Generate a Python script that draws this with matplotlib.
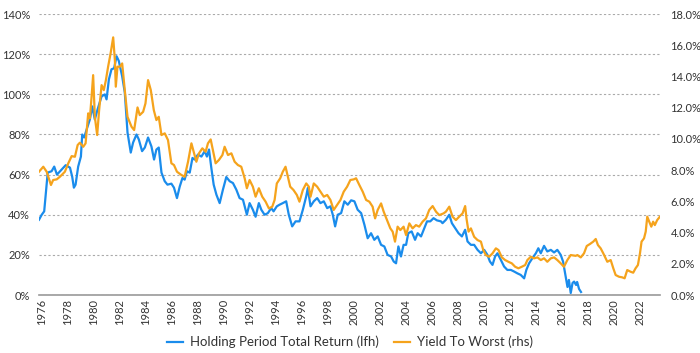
import matplotlib
matplotlib.use("Agg")
import matplotlib.pyplot as plt
from matplotlib.ticker import FuncFormatter, MultipleLocator

plt.rcParams['font.family'] = ['Lato', 'DejaVu Sans']

# Holding Period Total Return (left axis, %)
hptr_years = [1975.81, 1976.02, 1976.21, 1976.48, 1976.78, 1976.98, 1977.19, 1977.55, 1977.86, 1978.19,
              1978.36, 1978.49, 1978.62, 1978.82, 1979.03, 1979.13, 1979.28, 1979.47, 1979.72, 1979.90,
              1980.10, 1980.31, 1980.62, 1980.87, 1981.00, 1981.18, 1981.38, 1981.58, 1981.77, 1981.94,
              1982.20, 1982.40, 1982.61, 1982.86, 1983.04, 1983.30, 1983.48, 1983.73, 1983.94, 1984.19,
              1984.45, 1984.65, 1984.83, 1985.01, 1985.22, 1985.47, 1985.68, 1985.98, 1986.18, 1986.41,
              1986.62, 1986.83, 1987.00, 1987.18, 1987.39, 1987.60, 1987.77, 1988.02, 1988.29, 1988.54,
              1988.71, 1988.87, 1989.05, 1989.23, 1989.44, 1989.69, 1989.94, 1990.20, 1990.46, 1990.71,
              1990.97, 1991.22, 1991.48, 1991.78, 1991.99, 1992.24, 1992.45, 1992.70, 1992.89, 1993.14,
              1993.39, 1993.65, 1993.83, 1994.08, 1994.29, 1994.54, 1994.80, 1995.00, 1995.26, 1995.52,
              1995.82, 1996.08, 1996.34, 1996.46, 1996.67, 1996.92, 1997.18, 1997.43, 1997.69, 1997.95,
              1998.20, 1998.38, 1998.56, 1998.76, 1999.02, 1999.27, 1999.53, 1999.79, 2000.04, 2000.29,
              2000.56, 2000.81, 2001.06, 2001.32, 2001.57, 2001.83, 2002.09, 2002.34, 2002.59, 2002.86,
              2003.06, 2003.24, 2003.42, 2003.62, 2003.82, 2004.01, 2004.18, 2004.44, 2004.70, 2004.90,
              2005.16, 2005.36, 2005.62, 2005.87, 2006.12, 2006.38, 2006.69, 2006.81, 2007.07, 2007.33,
              2007.53, 2007.79, 2008.04, 2008.30, 2008.55, 2008.73, 2008.99, 2009.24, 2009.50, 2009.76,
              2010.01, 2010.26, 2010.45, 2010.65, 2010.85, 2011.03, 2011.29, 2011.54, 2011.79, 2012.06,
              2012.31, 2012.56, 2012.82, 2013.08, 2013.25, 2013.46, 2013.71, 2013.98, 2014.17, 2014.36,
              2014.61, 2014.86, 2015.13, 2015.38, 2015.63, 2015.89, 2016.07, 2016.27, 2016.41, 2016.52,
              2016.66, 2016.80, 2016.92, 2017.07, 2017.15, 2017.30, 2017.45]
hptr_values = [37.5, 40.0, 41.7, 61.0, 61.7, 64.0, 60.0, 62.5, 64.7, 63.5,
               59.0, 53.5, 55.0, 64.0, 69.0, 80.0, 78.5, 82.5, 87.5, 94.0,
               87.5, 92.5, 99.0, 100.0, 97.5, 107.5, 112.5, 113.0, 119.0, 116.7,
               109.0, 101.0, 81.0, 71.0, 76.0, 80.0, 77.5, 71.7, 73.5, 78.5,
               74.0, 67.5, 72.5, 73.5, 61.0, 56.7, 55.0, 55.5, 53.5, 48.3,
               54.0, 58.3, 57.5, 61.7, 61.0, 68.3, 67.5, 70.0, 69.0, 71.7,
               69.0, 72.5, 63.3, 55.0, 50.0, 45.8, 52.5, 58.8, 56.7, 55.8,
               52.5, 48.3, 47.5, 40.0, 45.8, 42.5, 39.0, 45.8, 42.5, 40.0,
               40.8, 43.3, 41.7, 44.2, 45.0, 45.8, 46.7, 40.0, 34.2, 36.7,
               36.7, 42.5, 49.2, 53.3, 44.2, 46.7, 48.3, 45.8, 46.7, 43.3,
               44.2, 40.0, 34.2, 40.0, 40.8, 46.7, 45.0, 47.2, 46.7, 42.5,
               40.8, 35.0, 28.3, 30.8, 27.5, 29.2, 25.0, 24.2, 20.0, 19.2,
               16.7, 15.8, 24.2, 19.2, 25.0, 25.0, 30.8, 31.7, 27.5, 30.8,
               29.2, 32.5, 36.7, 36.7, 38.3, 37.2, 36.7, 35.8, 37.5, 40.0,
               35.8, 33.3, 30.8, 29.2, 32.5, 26.7, 25.0, 25.0, 22.5, 20.8,
               22.5, 20.0, 16.7, 15.0, 19.2, 20.8, 17.5, 14.2, 12.5, 12.5,
               11.7, 10.8, 10.0, 8.3, 12.5, 15.8, 18.3, 20.8, 23.3, 20.8,
               24.5, 21.7, 22.5, 21.2, 22.5, 20.0, 16.7, 9.2, 4.0, 7.5,
               1.0, 6.0, 6.7, 5.0, 6.5, 3.0, 1.5]

# Yield To Worst (right axis, %)
ytw_years = [1975.81, 1976.14, 1976.40, 1976.73, 1976.90, 1977.17, 1977.42, 1977.80, 1978.06, 1978.32,
             1978.57, 1978.78, 1978.95, 1979.21, 1979.39, 1979.59, 1979.72, 1979.85, 1979.97, 1980.10,
             1980.28, 1980.43, 1980.62, 1980.79, 1980.95, 1981.12, 1981.31, 1981.51, 1981.64, 1981.71,
             1981.84, 1982.02, 1982.20, 1982.40, 1982.61, 1982.92, 1983.12, 1983.38, 1983.55, 1983.81,
             1983.99, 1984.19, 1984.40, 1984.63, 1984.83, 1985.01, 1985.22, 1985.47, 1985.72, 1985.98,
             1986.18, 1986.41, 1986.75, 1987.00, 1987.26, 1987.52, 1987.69, 1987.90, 1988.10, 1988.36,
             1988.61, 1988.79, 1989.00, 1989.17, 1989.38, 1989.63, 1989.90, 1990.07, 1990.33, 1990.59,
             1990.84, 1991.09, 1991.35, 1991.61, 1991.78, 1991.99, 1992.24, 1992.45, 1992.70, 1992.96,
             1993.22, 1993.47, 1993.73, 1993.91, 1994.08, 1994.34, 1994.54, 1994.75, 1994.93, 1995.11,
             1995.36, 1995.62, 1995.82, 1996.08, 1996.34, 1996.54, 1996.67, 1996.92, 1997.18, 1997.43,
             1997.69, 1997.95, 1998.20, 1998.45, 1998.71, 1998.97, 1999.22, 1999.48, 1999.73, 1999.99,
             2000.17, 2000.42, 2000.68, 2000.94, 2001.19, 2001.44, 2001.63, 2001.83, 2002.09, 2002.29,
             2002.55, 2002.80, 2002.98, 2003.16, 2003.36, 2003.57, 2003.82, 2004.01, 2004.26, 2004.51,
             2004.77, 2005.02, 2005.28, 2005.54, 2005.79, 2006.05, 2006.31, 2006.56, 2006.89, 2007.07,
             2007.33, 2007.58, 2007.84, 2008.09, 2008.35, 2008.55, 2008.65, 2008.81, 2008.99, 2009.24,
             2009.50, 2009.76, 2009.94, 2010.14, 2010.39, 2010.65, 2010.91, 2011.11, 2011.37, 2011.62,
             2011.87, 2012.13, 2012.39, 2012.64, 2012.90, 2013.16, 2013.33, 2013.59, 2013.84, 2014.10,
             2014.36, 2014.61, 2014.86, 2015.13, 2015.38, 2015.63, 2015.89, 2016.14, 2016.40, 2016.66,
             2017.04, 2017.17, 2017.43, 2017.68, 2017.89, 2018.14, 2018.39, 2018.58, 2018.75, 2018.96,
             2019.16, 2019.34, 2019.47, 2019.73, 2019.93, 2020.11, 2020.37, 2020.62, 2020.80, 2021.00,
             2021.26, 2021.46, 2021.64, 2021.82, 2021.98, 2022.10, 2022.29, 2022.42, 2022.54, 2022.69,
             2022.85, 2022.99, 2023.12, 2023.30, 2023.51]
ytw_values = [7.90, 8.22, 7.90, 7.05, 7.37, 7.41, 7.58, 7.90, 8.44, 8.90,
              8.86, 9.61, 9.76, 9.50, 9.72, 11.64, 11.32, 12.70, 14.09, 11.42,
              10.25, 11.85, 13.45, 13.13, 13.77, 14.63, 15.48, 16.51, 15.05, 13.35,
              14.63, 14.63, 14.84, 13.13, 11.42, 10.78, 10.57, 12.02, 11.53, 11.74,
              12.28, 13.77, 13.13, 11.85, 11.21, 11.42, 10.25, 10.36, 9.93, 8.44,
              8.33, 7.90, 7.69, 7.58, 8.54, 9.72, 9.18, 8.54, 9.08, 9.40,
              9.18, 9.72, 9.97, 9.29, 8.44, 8.65, 8.97, 9.50, 8.97, 9.08,
              8.54, 8.33, 8.22, 7.48, 6.84, 7.37, 6.94, 6.30, 6.84, 6.30,
              5.98, 5.55, 5.66, 6.09, 7.15, 7.48, 7.90, 8.22, 7.58, 6.94,
              6.73, 6.41, 5.98, 6.73, 7.15, 6.94, 6.30, 7.15, 6.94, 6.62,
              6.30, 6.41, 6.09, 5.45, 5.77, 6.09, 6.62, 6.94, 7.37, 7.41,
              7.48, 7.05, 6.62, 6.09, 5.98, 5.66, 4.91, 5.45, 5.87, 5.34,
              4.80, 4.27, 4.06, 3.42, 4.38, 4.16, 4.38, 3.84, 4.59, 4.27,
              4.48, 4.38, 4.70, 4.91, 5.45, 5.70, 5.34, 5.12, 5.23, 5.34,
              5.66, 5.02, 4.80, 5.02, 5.23, 5.70, 4.91, 4.06, 4.27, 3.73,
              3.52, 3.42, 2.88, 2.56, 2.45, 2.67, 2.99, 2.88, 2.41, 2.24,
              2.13, 2.03, 1.81, 1.71, 1.81, 1.92, 2.24, 2.45, 2.35, 2.41,
              2.24, 2.35, 2.13, 2.35, 2.41, 2.24, 2.03, 1.81, 2.24, 2.56,
              2.51, 2.56, 2.41, 2.67, 3.14, 3.27, 3.42, 3.59, 3.20, 2.99,
              2.67, 2.35, 2.13, 2.24, 1.71, 1.28, 1.17, 1.13, 1.07, 1.60,
              1.49, 1.43, 1.71, 1.92, 2.67, 3.42, 3.63, 4.06, 5.02, 4.70,
              4.38, 4.70, 4.48, 4.80, 5.02]

x_tick_years = list(range(1976, 2023, 2))
series_labels = ["Holding Period Total Return (lfh)", "Yield To Worst (rhs)"]

blue = "#1a8cec"
orange = "#f5a31c"
text_c = "#333333"

fig = plt.figure(figsize=(7.0, 3.53), dpi=100)
ax = fig.add_axes([0.0557, 0.1643, 0.8872, 0.7957])
ax2 = ax.twinx()

l1, = ax.plot(hptr_years, hptr_values, color=blue, lw=1.6, zorder=3)
l2, = ax2.plot(ytw_years, ytw_values, color=orange, lw=1.6, zorder=2)

ax.set_xlim(1975.81, 2023.52)
ax.set_ylim(0, 140)
ax2.set_ylim(0, 18)
ax.yaxis.set_major_locator(MultipleLocator(20))
ax2.yaxis.set_major_locator(MultipleLocator(2))
ax.yaxis.set_major_formatter(FuncFormatter(lambda v, p: f"{v:.0f}%"))
ax2.yaxis.set_major_formatter(FuncFormatter(lambda v, p: f"{v:.1f}%"))
ax.set_xticks(x_tick_years)
ax.set_xticklabels([str(y) for y in x_tick_years], rotation=90)

ax.grid(axis='y', linestyle=(0, (2, 2)), color='#aaaaaa', lw=0.8)
ax.set_axisbelow(True)
for a in (ax, ax2):
    for s in ('top', 'left', 'right'):
        a.spines[s].set_visible(False)
    a.spines['bottom'].set_visible(False)
ax.spines['bottom'].set_visible(True)
ax.spines['bottom'].set_color('#999999')
ax.spines['bottom'].set_linewidth(1.2)

ax.tick_params(axis='y', length=0, pad=6.5, labelsize=8, labelcolor=text_c)
ax2.tick_params(axis='y', length=0, pad=7.5, labelsize=8, labelcolor=text_c)
ax.tick_params(axis='x', length=0, pad=3, labelsize=8, labelcolor=text_c)

fig.legend([l1, l2], series_labels, loc='center', bbox_to_anchor=(0.5, 0.031),
           ncol=2, frameon=False, fontsize=9.5, handlelength=1.2, handletextpad=0.5,
           columnspacing=1.2, labelcolor=text_c)

fig.savefig("out.png", dpi=100)
